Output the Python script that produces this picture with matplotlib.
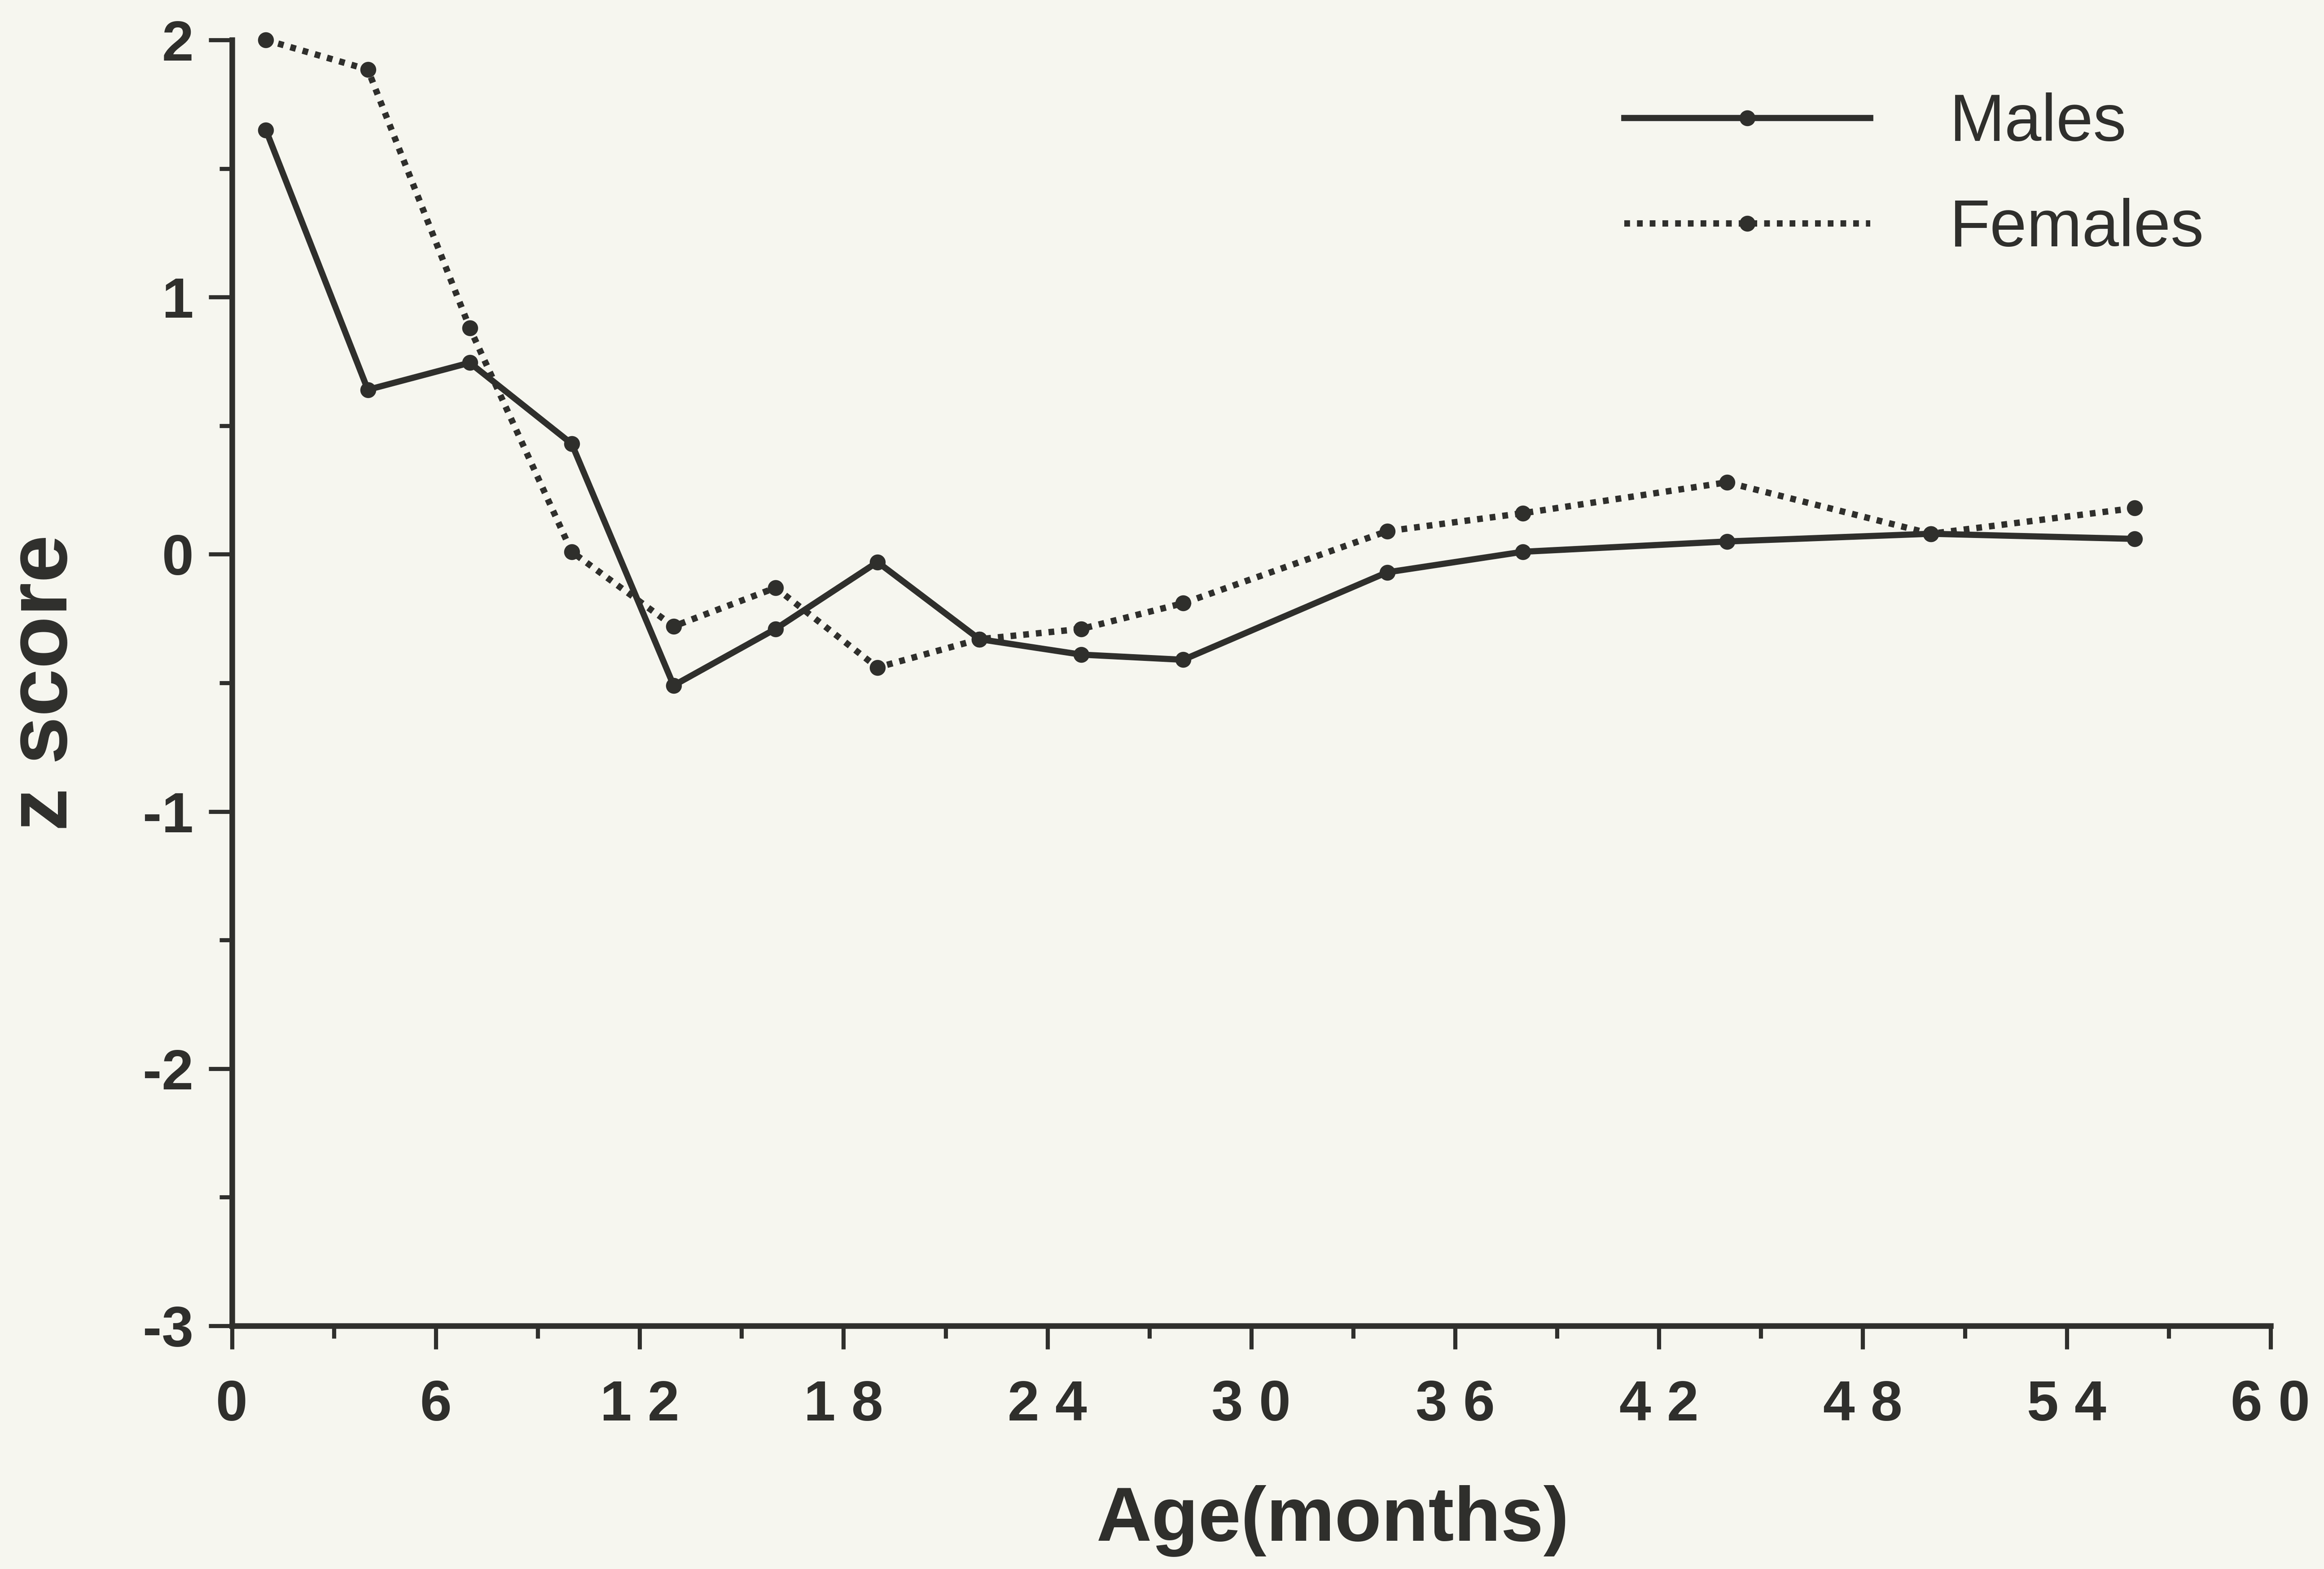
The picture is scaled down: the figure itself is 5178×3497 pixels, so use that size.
import numpy as np
import matplotlib
matplotlib.use('Agg')
import matplotlib.pyplot as plt
from matplotlib.ticker import MultipleLocator

# age in months and z scores
age = [1, 4, 7, 10, 13, 16, 19, 22, 25, 28, 34, 38, 44, 50, 56]
males = [1.65, 0.64, 0.745, 0.43, -0.51, -0.29, -0.03, -0.33, -0.39, -0.41,
         -0.07, 0.01, 0.05, 0.08, 0.06]
females = [2.0, 1.885, 0.88, 0.01, -0.28, -0.13, -0.44, -0.33, -0.29, -0.19,
           0.09, 0.16, 0.28, 0.08, 0.18]
xticks = [0, 6, 12, 18, 24, 30, 36, 42, 48, 54, 60]
xticklabels = ['0', '6', '1 2', '1 8', '2 4', '3 0', '3 6', '4 2', '4 8', '5 4', '6 0']
yticks = [-3, -2, -1, 0, 1, 2]

ink = '#2f2f2c'
paper = '#f6f6ef'

plt.rcParams['font.family'] = ['Liberation Sans', 'DejaVu Sans']
plt.rcParams['axes.unicode_minus'] = False

fig = plt.figure(figsize=(5178 / 300, 3497 / 300), dpi=300, facecolor=paper)
ax = fig.add_axes([0.0998, 0.155, 0.8772, 0.8195])
ax.set_facecolor(paper)

ax.plot(age, males, color=ink, lw=3.3, marker='o', ms=7.5, label='Males',
        clip_on=False, solid_joinstyle='miter')
ax.plot(age, females, color=ink, lw=3.4, ls=(0, (0.9, 1.1)), marker='o',
        ms=7.5, label='Females', clip_on=False)

ax.set_xlim(0, 60)
ax.set_ylim(-3, 2)
for side in ['top', 'right']:
    ax.spines[side].set_visible(False)
for side in ['left', 'bottom']:
    ax.spines[side].set_linewidth(3)
    ax.spines[side].set_color(ink)

ax.set_xticks(xticks)
ax.set_xticklabels(xticklabels)
ax.xaxis.set_minor_locator(MultipleLocator(3))
ax.set_yticks(yticks)
ax.yaxis.set_minor_locator(MultipleLocator(0.5))
ax.tick_params(which='major', length=12.5, width=2.2, color=ink)
ax.tick_params(which='minor', length=6.8, width=2.2, color=ink)
ax.tick_params(axis='x', which='major', pad=16, labelsize=30.5, labelcolor=ink)
ax.tick_params(axis='y', which='major', pad=8, labelsize=30.5, labelcolor=ink)
for lab in ax.get_xticklabels() + ax.get_yticklabels():
    lab.set_fontweight('bold')

ax.set_xlabel('Age(months)', fontsize=41, fontweight='bold', color=ink)
ax.xaxis.set_label_coords(0.540, -0.124)
ax.set_ylabel('z score', fontsize=46, fontweight='bold', color=ink, labelpad=31)

ax.legend(loc='upper left', bbox_to_anchor=(0.699, 0.941), bbox_transform=fig.transFigure,
          frameon=False, fontsize=35.5, handlelength=3.7, handletextpad=1.2,
          labelspacing=0.65, borderpad=0, borderaxespad=0, labelcolor=ink)

fig.savefig('out.png', dpi=300, facecolor=paper)
